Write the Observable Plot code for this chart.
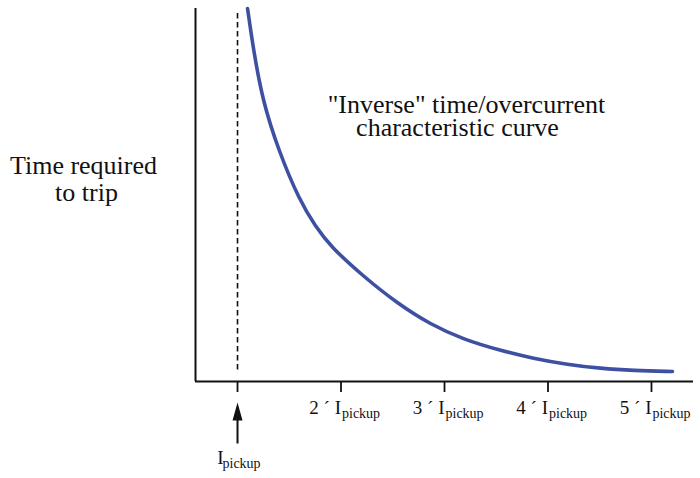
<!DOCTYPE html>
<html>
<head>
<meta charset="utf-8">
<script src="https://cdn.jsdelivr.net/npm/d3@7"></script>
<script src="https://cdn.jsdelivr.net/npm/@observablehq/plot@0.6"></script>
<style>
  html, body { margin: 0; padding: 0; background: #fff; }
  #chart svg { display: block; }
  #chart svg text, #chart svg tspan { font-family: "Liberation Serif", "Times New Roman", "DejaVu Serif", serif !important; }
</style>
</head>
<body>
<div id="chart"></div>
<script>
// Multiples of pickup current (x) and relative time required to trip (y)
const currentMultiples = [1.097, 1.155, 1.242, 1.396, 1.599, 1.754, 1.899, 2.217, 2.546, 2.865, 3.184, 3.541, 3.860, 4.188, 4.507, 4.826, 5.203];
const tripTimes        = [37.3, 33.1, 28.1, 23.1, 18.1, 15.5, 13.5, 10.5, 7.8, 5.7, 4.2, 3.1, 2.3, 1.7, 1.3, 1.1, 1.0];

const tickMultiples  = [1, 2, 3, 4, 5];
const labelMultiples = [2, 3, 4, 5];
const labelMain      = labelMultiples.map(m => `${m} ´ I`);
const labelSub       = "pickup";
const pickupMultiple = [1];
const pickupMain     = "I";
const pickupSub      = "pickup";
const yLabelLines    = ["Time required", "to trip"];
const titleLines     = ['"Inverse" time/overcurrent', "characteristic curve"];

const xDomain = [0.594, 5.406];
const yDomain = [0, 37.3];

const curve = currentMultiples.map((x, i) => ({x, y: tripTimes[i]}));
const labels = labelMultiples.map((m, i) => ({x: m, main: labelMain[i], sub: labelSub}));

const font = "Liberation Serif";
const ink = "#111";

// narrow filled arrow (head + shaft) as a custom symbol
const arrowSymbol = {
  draw(ctx) {
    ctx.moveTo(0, -18);
    ctx.lineTo(5, 0);
    ctx.lineTo(1, 0);
    ctx.lineTo(1, 23);
    ctx.lineTo(-1, 23);
    ctx.lineTo(-1, 0);
    ctx.lineTo(-5, 0);
    ctx.closePath();
  }
};

const txt = {fontFamily: font, fill: ink};
const big = {...txt, frameAnchor: "top-left", lineAnchor: "bottom", textAnchor: "middle", fontSize: 26};

const chart = Plot.plot({
  width: 700,
  height: 478,
  marginLeft: 195,
  marginRight: 7,
  marginTop: 8,
  marginBottom: 97,
  style: {background: "#fff", fontFamily: font, overflow: "visible"},
  x: {domain: xDomain, axis: null},
  y: {domain: yDomain, axis: null},
  marks: [
    // dashed pickup line
    Plot.ruleX(pickupMultiple, {stroke: ink, strokeWidth: 1.6, strokeDasharray: "5.5,3.5", insetTop: 5, insetBottom: 9}),
    // axes lines
    Plot.ruleX([xDomain[0]], {stroke: ink, strokeWidth: 2}),
    Plot.ruleY([yDomain[0]], {stroke: ink, strokeWidth: 2}),
    Plot.axisX({ticks: tickMultiples, tickSize: 11, tickFormat: () => "", label: null, stroke: ink, strokeWidth: 1.8}),
    // curve
    Plot.line(curve, {x: "x", y: "y", curve: "basis", stroke: "#3d50a2", strokeWidth: 3.6}),
    // tick labels with subscripts
    Plot.text(labels, {...txt, x: "x", text: "main", frameAnchor: "bottom", lineAnchor: "bottom", textAnchor: "end", dx: 0, dy: 32, fontSize: 19}),
    Plot.text(labels, {...txt, x: "x", text: "sub", frameAnchor: "bottom", lineAnchor: "bottom", textAnchor: "start", dx: 1, dy: 36, fontSize: 14}),
    // pickup arrow and label
    Plot.dot(pickupMultiple, {x: d => d, frameAnchor: "bottom", dy: 39, symbol: arrowSymbol, fill: ink, stroke: "none"}),
    Plot.text(pickupMultiple, {...txt, x: d => d, text: () => pickupMain, frameAnchor: "bottom", lineAnchor: "bottom", textAnchor: "end", dx: -14, dy: 82, fontSize: 19}),
    Plot.text(pickupMultiple, {...txt, x: d => d, text: () => pickupSub, frameAnchor: "bottom", lineAnchor: "bottom", textAnchor: "start", dx: -15, dy: 86, fontSize: 14}),
    // y label (two lines)
    Plot.text([yLabelLines[0]], {...big, dx: -112, dy: 165}),
    Plot.text([yLabelLines[1]], {...big, dx: -109, dy: 192}),
    // title annotation (two lines)
    Plot.text([titleLines[0]], {...big, dx: 271, dy: 104}),
    Plot.text([titleLines[1]], {...big, dx: 262, dy: 127})
  ]
});

document.getElementById("chart").appendChild(chart);
</script>
</body>
</html>
